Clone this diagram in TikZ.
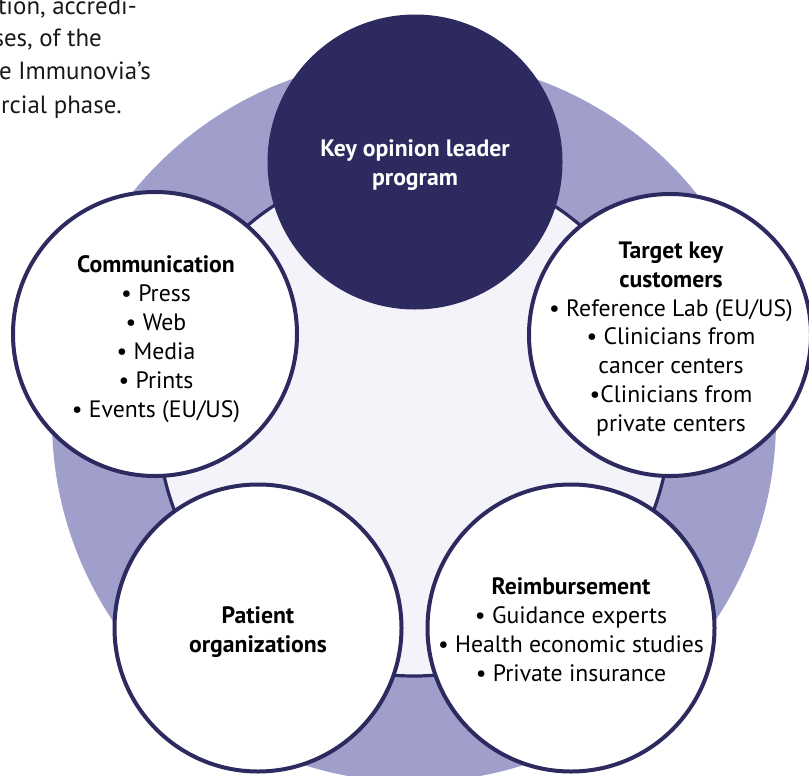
\documentclass[tikz,border=0pt]{standalone}
\usepackage{fontspec}
\setmainfont{PT Sans}
\definecolor{navy}{HTML}{2C2A5E}
\definecolor{ringpurple}{HTML}{A09ECB}
\definecolor{lavender}{HTML}{F4F3FA}
\begin{document}
\begin{tikzpicture}[x=1bp,y=-1bp,
  pillar/.style={circle,draw=navy,line width=4bp,fill=white,inner sep=0pt},
  body/.style={align=center,font=\fontsize{23.8}{29}\selectfont,text=black},
  prose/.style={anchor=base east,inner sep=0pt,font=\fontsize{25}{33}\selectfont,text=black!90}]
\useasboundingbox (0,0) rectangle (809,776);
\begin{scope}
\clip (0,0) rectangle (809,776);
% outer ring and inner disc
\fill[ringpurple] (414,420) circle[radius=362bp];
\draw[navy,line width=3.2bp,fill=lavender] (414,420) circle[radius=256bp];
% the five circles
\node[pillar,fill=navy,minimum size=291bp] (kol) at (415,162) {};
\node[pillar,minimum size=282bp] (target) at (670,335) {};
\node[pillar,minimum size=284bp] (comm) at (155,334) {};
\node[pillar,minimum size=287bp] (patient) at (258,628) {};
\node[pillar,minimum size=287bp] (reimb) at (571,628) {};
% running text of the page
\node[prose] (p1) at (137,15) {tion, accredi-};
\node[prose] (p2) at (102,47) {ses, of the};
\node[prose] (p3) at (151,80) {e Immunovia’s};
\node[prose] (p4) at (122,113) {rcial phase.};
\end{scope}
% labels (yshift points up on the page)
\node[body,text=white,font=\bfseries\fontsize{23.8}{29}\selectfont] (kolt) at ([yshift=-3bp]kol.center) {Key opinion leader\\program};
\node[body] (targett) at ([xshift=1bp,yshift=-4bp]target.center) {\textbf{Target key}\\\textbf{customers}\\• Reference Lab (EU/US)\\• Clinicians from\\cancer centers\\•Clinicians from\\private centers};
\node[body] (commt) at ([xshift=1bp,yshift=-5bp]comm.center) {\textbf{Communication}\\• Press\\• Web\\• Media\\• Prints\\• Events (EU/US)};
\node[body,font=\bfseries\fontsize{23.8}{29}\selectfont] (patientt) at ([yshift=-4bp]patient.center) {Patient\\organizations};
\node[body] (reimbt) at ([yshift=-2bp]reimb.center) {\textbf{Reimbursement}\\• Guidance experts\\• Health economic studies\\• Private insurance};
\end{tikzpicture}
\end{document}
